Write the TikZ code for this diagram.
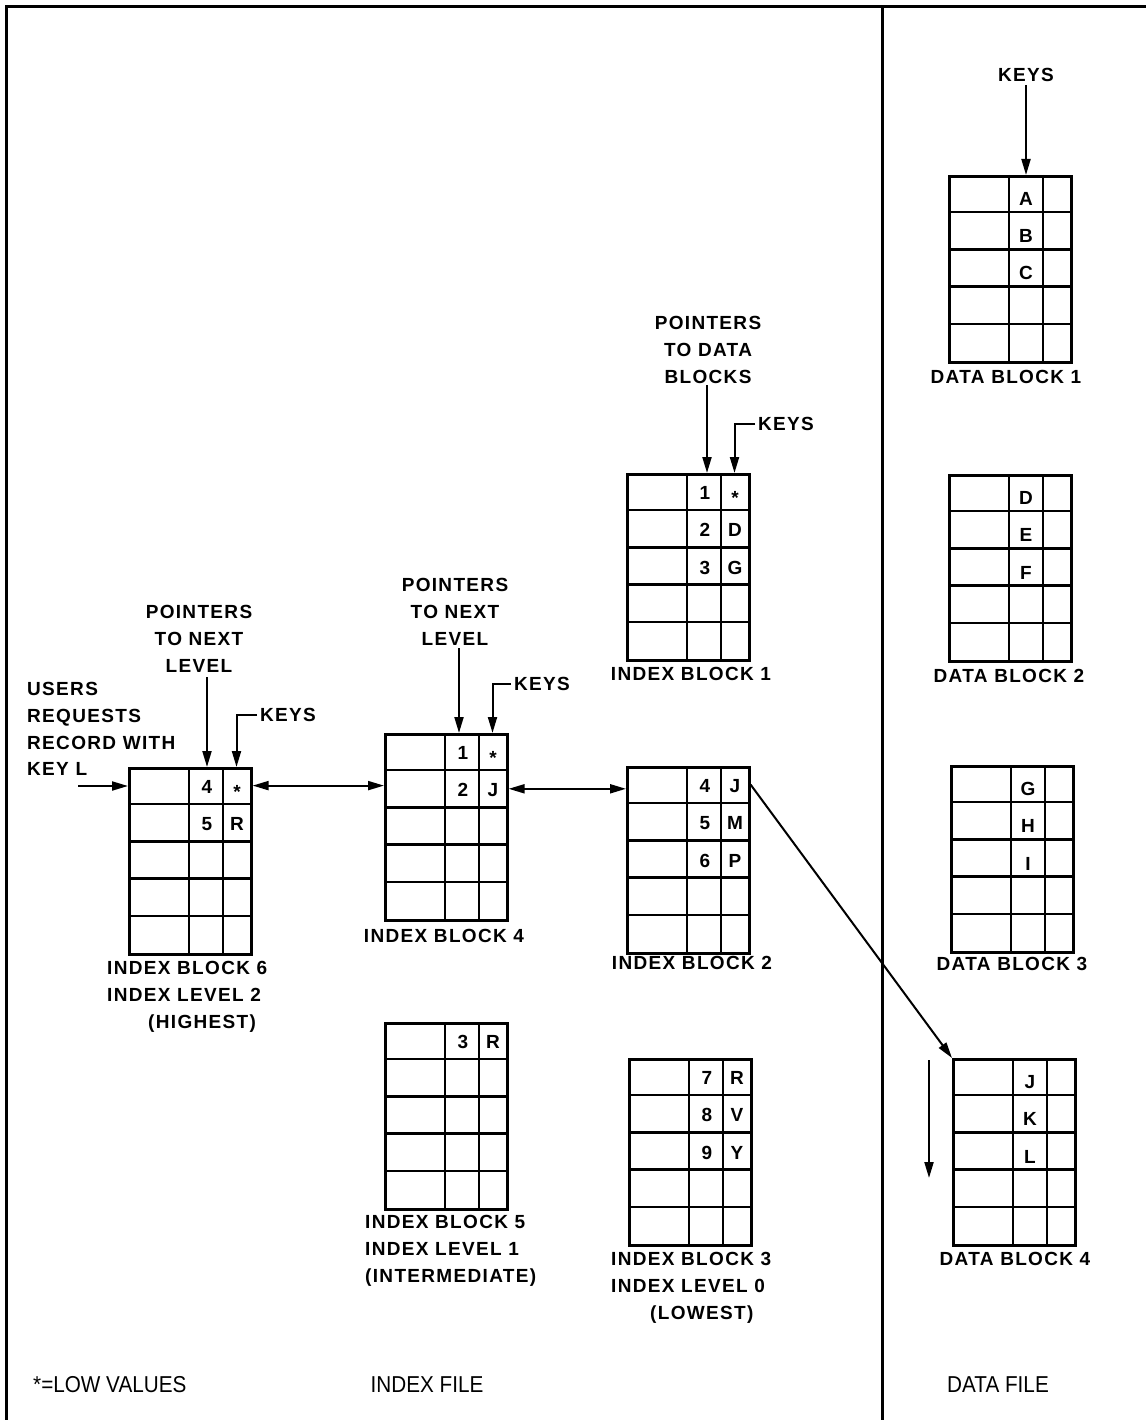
\documentclass[tikz,border=0pt]{standalone}
\usepackage{fontspec}
\setmainfont{Liberation Sans}
\newfontfamily\lblfont[LetterSpace=7]{Liberation Sans Bold}
\newfontfamily\botfont{Liberation Sans}
\usetikzlibrary{arrows.meta,calc}
\newcommand\lowstar{\raisebox{-5pt}{*}}
\newcommand\condensed[1]{\scalebox{0.9}[1]{#1}}
\tikzset{
  lbl/.style={font=\lblfont\fontsize{19}{26.8}\selectfont, inner sep=0pt},
  bot/.style={font=\botfont\fontsize{23}{26}\selectfont, inner sep=0pt},
  blkbox/.style={draw, line width=2.6pt, minimum width=122pt, minimum height=186pt, inner sep=0pt, anchor=north west},
  gridline/.style={line width=2.4pt},
  arr/.style={line width=2pt, -{Triangle[length=16pt,width=9pt]}},
  hook/.style={line width=2pt, -{Triangle[length=16pt,width=9pt]}},
  darr/.style={line width=2pt, {Triangle[length=16pt,width=9pt]}-{Triangle[length=16pt,width=9pt]}},
  frameline/.style={line width=3pt}
}
\newcommand\dblock[3]{%
  \node[blkbox] (#1) at (#2,#3) {};
  \draw[gridline] ($(#1.north west)+(61,0)$) -- ($(#1.south west)+(61,0)$);
  \draw[gridline] ($(#1.north west)+(95,0)$) -- ($(#1.south west)+(95,0)$);
  \foreach \r in {37.2,74.4,111.6,148.8}{
    \draw[gridline] ($(#1.north west)+(0,\r)$) -- ($(#1.north east)+(0,\r)$);
  }
  \coordinate (#1-t2) at ($(#1.north west)+(78,0)$);
  \coordinate (#1-t3) at ($(#1.north west)+(108.5,0)$);
  \coordinate (#1-e1) at ($(#1.north east)+(0,18.6)$);
  \coordinate (#1-e2) at ($(#1.north east)+(0,55.8)$);
}
\newcommand\ixrow[4]{%
  \node[lbl,anchor=base] (#1-n#2) at ($(#1.north west)+(79,{37.2*#2-18.6+8})$) {#3};
  \node[lbl,anchor=base] (#1-k#2) at ($(#1.north west)+(109,{37.2*#2-18.6+8})$) {#4};
}
\newcommand\dxrow[3]{%
  \node[lbl,anchor=base] (#1-d#2) at ($(#1.north west)+(78,{37.2*#2-18.6+12})$) {#3};
}
\begin{document}
\begin{tikzpicture}[x=1pt,y=-1pt]
\useasboundingbox (0,0) rectangle (1146,1420);
% frame
\coordinate (fbl) at (6,1420);
\coordinate (ftl) at (6,7);
\coordinate (ftr) at (1146,7);
\coordinate (fdt) at (882,7);
\coordinate (fdb) at (882,1420);
\draw[frameline] (fbl) -- (ftl) -- (ftr);
\draw[frameline] (fdt) -- (fdb);

% blocks
\dblock{ib6}{128}{767}
\dblock{ib4}{384}{733}
\dblock{ib1}{626}{473}
\dblock{ib2}{626}{766}
\dblock{ib5}{384}{1022}
\dblock{ib3}{628}{1058}
\dblock{db1}{948}{175}
\dblock{db2}{948}{474}
\dblock{db3}{950}{765}
\dblock{db4}{952}{1058}

% entries
\ixrow{ib6}{1}{4}{\lowstar}
\ixrow{ib6}{2}{5}{R}
\ixrow{ib4}{1}{1}{\lowstar}
\ixrow{ib4}{2}{2}{J}
\ixrow{ib1}{1}{1}{\lowstar}
\ixrow{ib1}{2}{2}{D}
\ixrow{ib1}{3}{3}{G}
\ixrow{ib2}{1}{4}{J}
\ixrow{ib2}{2}{5}{M}
\ixrow{ib2}{3}{6}{P}
\ixrow{ib5}{1}{3}{R}
\ixrow{ib3}{1}{7}{R}
\ixrow{ib3}{2}{8}{V}
\ixrow{ib3}{3}{9}{Y}
\dxrow{db1}{1}{A}
\dxrow{db1}{2}{B}
\dxrow{db1}{3}{C}
\dxrow{db2}{1}{D}
\dxrow{db2}{2}{E}
\dxrow{db2}{3}{F}
\dxrow{db3}{1}{G}
\dxrow{db3}{2}{H}
\dxrow{db3}{3}{I}
\dxrow{db4}{1}{J}
\dxrow{db4}{2}{K}
\dxrow{db4}{3}{L}

% block labels
\node[lbl, align=left, anchor=north west] (ib6-l) at (107,961) {INDEX BLOCK 6\\INDEX LEVEL 2\\\hspace*{41pt}(HIGHEST)};
\node[lbl, anchor=north] (ib4-l) at (444,929) {INDEX BLOCK 4};
\node[lbl, anchor=north] (ib1-l) at (691,667) {INDEX BLOCK 1};
\node[lbl, anchor=north] (ib2-l) at (692,956) {INDEX BLOCK 2};
\node[lbl, align=left, anchor=north west] (ib5-l) at (365,1215) {INDEX BLOCK 5\\INDEX LEVEL 1\\(INTERMEDIATE)};
\node[lbl, align=left, anchor=north west] (ib3-l) at (611,1252) {INDEX BLOCK 3\\INDEX LEVEL 0\\\hspace*{39pt}(LOWEST)};
\node[lbl, anchor=north] (db1-l) at (1006,370) {DATA BLOCK 1};
\node[lbl, anchor=north] (db2-l) at (1009,669) {DATA BLOCK 2};
\node[lbl, anchor=north] (db3-l) at (1012,957) {DATA BLOCK 3};
\node[lbl, anchor=north] (db4-l) at (1015,1252) {DATA BLOCK 4};

% annotations
\node[lbl, align=center, anchor=north] (ptr6) at (199,605) {POINTERS\\TO NEXT\\LEVEL};
\coordinate (ptr6a) at (207,677);
\draw[arr] (ptr6a) -- (ptr6a |- ib6.north);
\node[lbl, anchor=west, inner xsep=3pt] (key6) at (257,715) {KEYS};
\draw[hook] (key6.west) -| (ib6-t3);

\node[lbl, align=center, anchor=north] (ptr4) at (455,578) {POINTERS\\TO NEXT\\LEVEL};
\coordinate (ptr4a) at (459,648);
\draw[arr] (ptr4a) -- (ptr4a |- ib4.north);
\node[lbl, anchor=west, inner xsep=3pt] (key4) at (511,684) {KEYS};
\draw[hook] (key4.west) -| (ib4-t3);

\node[lbl, align=center, anchor=north] (ptr1) at (708,316) {POINTERS\\TO DATA\\BLOCKS};
\coordinate (ptr1a) at (707,385);
\draw[arr] (ptr1a) -- (ptr1a |- ib1.north);
\node[lbl, anchor=west, inner xsep=3pt] (key1) at (755,424) {KEYS};
\draw[hook] (key1.west) -| (ib1-t3);

\node[lbl] (keysd) at (1026,75) {KEYS};
\draw[arr, shorten <=3pt] (keysd.south -| db1-t2) -- (db1-t2);

\node[lbl, align=left, anchor=north west] (users) at (27,682) {USERS\\REQUESTS\\RECORD WITH\\KEY L};
\coordinate (usrA) at (78,786);
\draw[arr] (usrA) -- (usrA -| ib6.west);

% connectors
\draw[darr] (ib6-e1) -- (ib6-e1 -| ib4.west);
\draw[darr] (ib4-e2) -- (ib4-e2 -| ib2.west);
\draw[arr] (ib2-e1) -- (db4.north west);
\coordinate (dnA) at (929,1060);
\coordinate (dnB) at (929,1178);
\draw[arr] (dnA) -- (dnB);

% bottom labels
\node[bot, anchor=west] (lowv) at (33,1385) {\condensed{*=LOW VALUES}};
\node[bot] (ixf) at (427,1385) {\condensed{INDEX FILE}};
\node[bot] (dtf) at (998,1385) {\condensed{DATA FILE}};
\end{tikzpicture}
\end{document}
